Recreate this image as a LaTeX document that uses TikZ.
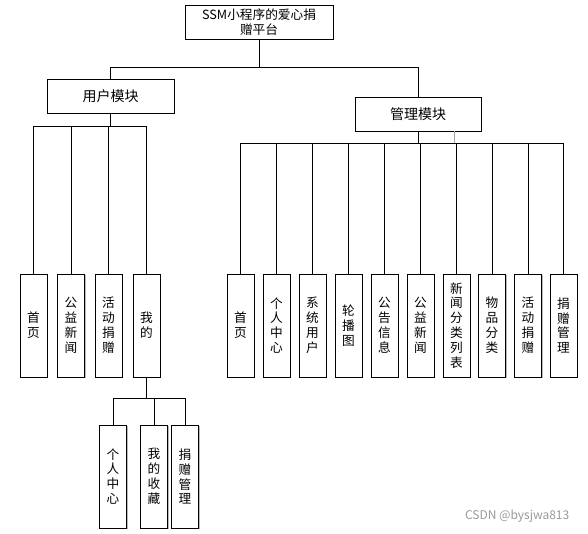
\documentclass[tikz,border=0pt]{standalone}
\usepackage{fontspec}
\setmainfont{Noto Sans CJK SC}
\usetikzlibrary{shadows}
\begin{document}
\begin{tikzpicture}[x=0.75pt,y=-0.75pt,
  box/.style={draw=black,line width=0.75pt,fill=white,rectangle,inner sep=0pt,
    drop shadow={shadow xshift=0.9pt,shadow yshift=-0.9pt,fill=gray!55,opacity=1},
    font=\fontsize{9.5}{11.2}\selectfont,align=center},
  vbox/.style={box,minimum width=20.25pt,minimum height=77.25pt},
  conn/.style={draw=black,line width=0.75pt}]
\useasboundingbox (0,0) rectangle (588,533);
% top
\node[box,minimum width=111pt,minimum height=25.5pt] (top) at (259,22) {SSM小程序的爱心捐\\赠平台};
\node[box,minimum width=95.25pt,minimum height=25.5pt,font=\fontsize{10.5}{12}\selectfont] (user) at (110.5,96) {用户模块};
\node[box,minimum width=94.5pt,minimum height=25.5pt,font=\fontsize{10.5}{12}\selectfont] (admin) at (418,114) {管理模块};
\coordinate (b1) at (259,67);
\draw[conn] (top.south) -- (b1);
\draw[conn] (user.north) |- (b1);
\draw[conn] (admin.north) |- (b1);
% user children
\node[vbox] (u1) at (33.5,325.5) {首\\页};
\node[vbox] (u2) at (71,325.5) {公\\益\\新\\闻};
\node[vbox] (u3) at (108.5,325.5) {活\\动\\捐\\赠};
\node[vbox] (u4) at (146.5,325.5) {我\\的};
\coordinate (bu) at (110.5,126);
\draw[conn] (user.south) -- (bu);
\foreach \n in {u1,u2,u3,u4} \draw[conn] (\n.north) |- (bu);
% sub children
\node[vbox] (s1) at (113,476.5) {个\\人\\中\\心};
\node[vbox] (s2) at (154,476.5) {我\\的\\收\\藏};
\node[vbox] (s3) at (185,476.5) {捐\\赠\\管\\理};
\coordinate (bs) at (146.5,398);
\draw[conn] (u4.south) -- (bs);
\foreach \n in {s1,s2,s3} \draw[conn] (\n.north) |- (bs);
% admin children
\node[vbox] (a1) at (240.5,325.5) {首\\页};
\node[vbox] (a2) at (276.5,325.5) {个\\人\\中\\心};
\node[vbox] (a3) at (312.5,325.5) {系\\统\\用\\户};
\node[vbox] (a4) at (348.5,325.5) {轮\\播\\图};
\node[vbox] (a5) at (384.5,325.5) {公\\告\\信\\息};
\node[vbox] (a6) at (420.5,325.5) {公\\益\\新\\闻};
\node[vbox] (a7) at (456.5,325.5) {新\\闻\\分\\类\\列\\表};
\node[vbox] (a8) at (492,325.5) {物\\品\\分\\类};
\node[vbox] (a9) at (528,325.5) {活\\动\\捐\\赠};
\node[vbox] (a10) at (563.5,325.5) {捐\\赠\\管\\理};
\coordinate (ba) at (418,143);
\draw[conn] (admin.south) -- (ba);
\foreach \n in {a1,a2,a3,a4,a5,a6,a7,a8,a9,a10} \draw[conn] (\n.north) |- (ba);
\coordinate (g1) at (454,131);
\coordinate (g2) at (454,143);
\draw[gray!70,line width=0.75pt] (g1) -- (g2);
% watermark
\node[text=gray!80,font=\fontsize{9}{10}\selectfont,anchor=east] (wm) at (574,516) {CSDN @bysjwa813};
\end{tikzpicture}
\end{document}
